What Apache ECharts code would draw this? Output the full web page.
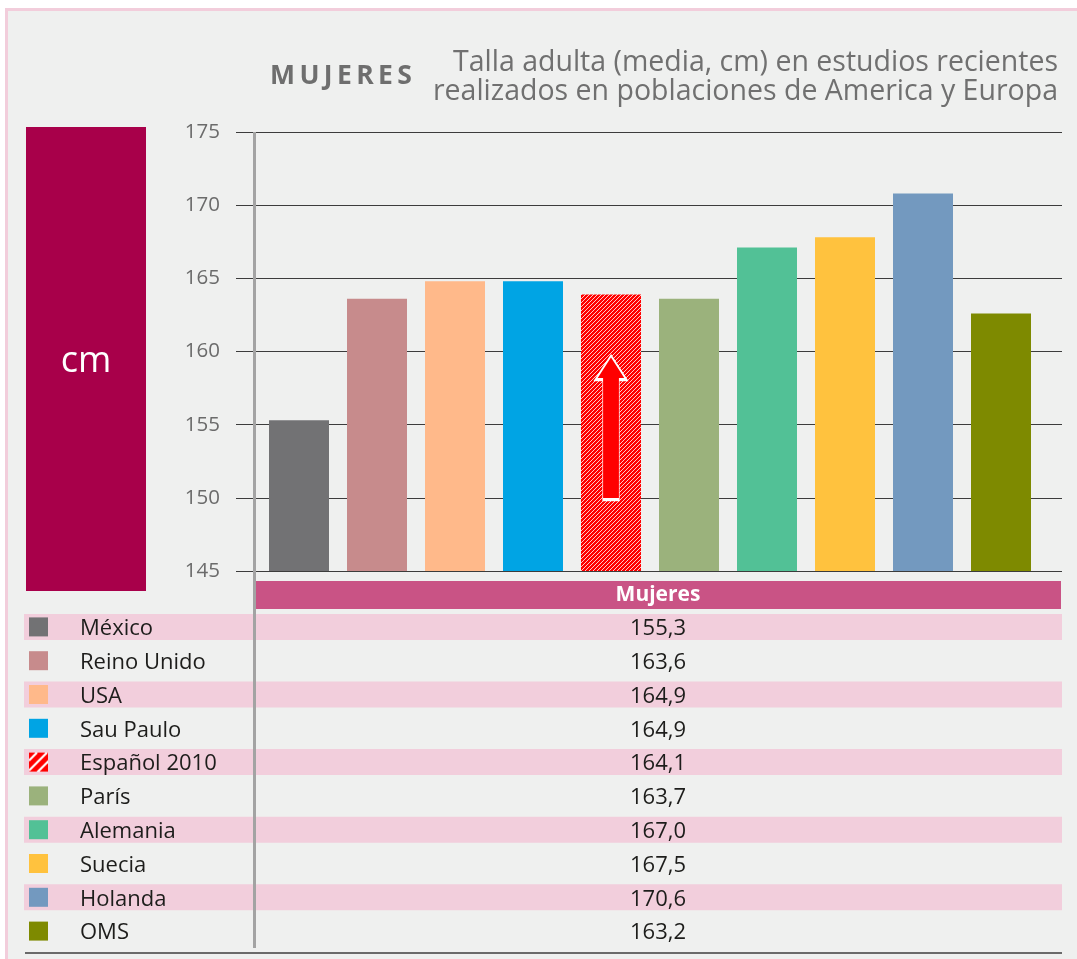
<!DOCTYPE html>
<html>
<head>
<meta charset="utf-8">
<script src="https://cdn.jsdelivr.net/npm/echarts@6/dist/echarts.min.js"></script>
<style>
html, body { margin: 0; padding: 0; background: #fff; }
#wrap { position: relative; width: 1077px; height: 959px; }
#panel {
  position: absolute; left: 5px; top: 8px; right: 0; bottom: 0;
  background: #eff0ef;
  border-left: 3px solid #f2cddb;
  border-top: 3px solid #f2cddb;
}
#chart { position: absolute; left: 0; top: 0; width: 1077px; height: 959px; }
</style>
</head>
<body>
<div id="wrap">
  <div id="panel"></div>
  <div id="chart"></div>
</div>
<script>
// datos
const categories = ['México', 'Reino Unido', 'USA', 'Sau Paulo', 'Español 2010', 'París', 'Alemania', 'Suecia', 'Holanda', 'OMS'];
const barHeights = [155.3, 163.6, 164.8, 164.8, 163.9, 163.6, 167.1, 167.8, 170.8, 162.6];
const tableValues = ['155,3', '163,6', '164,9', '164,9', '164,1', '163,7', '167,0', '167,5', '170,6', '163,2'];
const barColors = ['#727274', '#c78b8c', '#ffb98a', '#00a4e4', '#ff0000', '#9bb27c', '#52c196', '#ffc23e', '#7399bf', '#7e8a00'];
const yMin = 145;
const yMax = 175;
const yStep = 5;
const hatchIndex = 4; // Español 2010
const arrowValue = 154.8;

const FONT = '"Open Sans", "Noto Sans", sans-serif';

// trama rayada para la barra de España
function barHatch() {
  const c = document.createElement('canvas');
  c.width = 4; c.height = 4;
  const ctx = c.getContext('2d');
  const img = ctx.createImageData(4, 4);
  for (let y = 0; y < 4; y++) {
    for (let x = 0; x < 4; x++) {
      const k = (y * 4 + x) * 4;
      const white = (x + y) % 4 === 3;
      img.data[k] = 255;
      img.data[k + 1] = white ? 200 : 0;
      img.data[k + 2] = white ? 200 : 0;
      img.data[k + 3] = 255;
    }
  }
  ctx.putImageData(img, 0, 0);
  return c;
}

// cuadrito rayado de la leyenda
function legendHatch() {
  const c = document.createElement('canvas');
  c.width = 19; c.height = 19;
  const ctx = c.getContext('2d');
  ctx.fillStyle = '#ff0000';
  ctx.fillRect(0, 0, 19, 19);
  ctx.strokeStyle = '#ffffff';
  ctx.lineWidth = 2.2;
  [8, 18, 28].forEach(function (s) {
    ctx.beginPath();
    ctx.moveTo(0, s);
    ctx.lineTo(s, 0);
    ctx.stroke();
  });
  return c;
}

const hatchBar = barHatch();
const hatchSq = legendHatch();

const rich = {
  g: { width: 32 },
  t: { fontSize: 22, color: '#1d1d1b', fontFamily: FONT, padding: [4, 0, 0, 0] }
};
categories.forEach(function (c, i) {
  rich['s' + i] = {
    width: 19, height: 19,
    backgroundColor: i === hatchIndex ? { image: hatchSq } : barColors[i]
  };
});

const chart = echarts.init(document.getElementById('chart'));

const subStyle = { fontSize: 28.5, fontWeight: 'normal', color: '#707070', fontFamily: FONT };

chart.setOption({
  animation: false,
  backgroundColor: 'transparent',
  textStyle: { fontFamily: FONT },
  title: [
    {
      text: 'M\u2009U\u2009J\u2009E\u2009R\u2009E\u2009S',
      left: 270, top: 63, padding: 0,
      textStyle: { fontSize: 26.5, fontWeight: 'bold', color: '#6e6e6e', fontFamily: FONT }
    },
    {
      text: 'Talla adulta (media, cm) en estudios recientes',
      right: 19, top: 48, padding: 0,
      textStyle: subStyle
    },
    {
      text: 'realizados en poblaciones de America y Europa',
      right: 19, top: 77, padding: 0,
      textStyle: subStyle
    }
  ],
  grid: [
    { left: 236, right: 15, top: 132, height: 439 },
    { left: 260, right: 37, top: 132, height: 439 },
    { left: 24, right: 15, top: 610, height: 338 },
    { left: 256, right: 17, top: 612, height: 338 }
  ],
  xAxis: [
    { gridIndex: 0, type: 'value', show: false },
    { gridIndex: 1, type: 'category', data: categories, show: false },
    { gridIndex: 2, type: 'value', min: 0, max: 1, show: false },
    { gridIndex: 3, type: 'value', min: 0, max: 1, show: false }
  ],
  yAxis: [
    {
      gridIndex: 0, type: 'value', min: yMin, max: yMax, interval: yStep,
      axisLine: { show: false },
      axisTick: { show: false },
      splitLine: { lineStyle: { color: '#3c3c3c', width: 1 } },
      axisLabel: { color: '#6b6b6b', fontSize: 20.5, margin: 16, fontFamily: FONT }
    },
    { gridIndex: 1, type: 'value', min: yMin, max: yMax, show: false },
    {
      gridIndex: 2, type: 'category', inverse: true, data: categories,
      z: 10,
      axisLine: { show: false },
      axisTick: { show: false },
      splitLine: { show: false },
      axisLabel: {
        inside: true, margin: 5, interval: 0,
        formatter: function (v, i) { return '{s' + i + '|}{g|}{t|' + v + '}'; },
        rich: rich
      }
    },
    { gridIndex: 3, type: 'category', inverse: true, data: categories, show: false }
  ],
  series: [
    {
      name: 'Mujeres',
      type: 'bar',
      xAxisIndex: 1, yAxisIndex: 1,
      barWidth: 60,
      silent: true,
      data: barHeights.map(function (v, i) {
        return {
          value: v,
          itemStyle: { color: i === hatchIndex ? { image: hatchBar, repeat: 'repeat' } : barColors[i] }
        };
      }),
      markPoint: {
        silent: true,
        symbol: 'path://M15,0 L30,24 L23,24 L23,144 L7,144 L7,24 L0,24 Z',
        symbolSize: [31, 144],
        symbolKeepAspect: false,
        label: { show: false },
        itemStyle: { color: '#ff0000', borderColor: '#ffffff', borderWidth: 1.5 },
        data: [{ coord: [categories[hatchIndex], arrowValue] }]
      }
    },
    {
      // franjas rosas de la tabla
      type: 'bar',
      xAxisIndex: 2, yAxisIndex: 2,
      barWidth: 26,
      silent: true,
      z: 1,
      itemStyle: { color: '#f2cedc' },
      data: categories.map(function (c, i) { return i % 2 === 0 ? 1 : '-'; })
    },
    {
      // columna de valores
      type: 'bar',
      xAxisIndex: 3, yAxisIndex: 3,
      barWidth: 26,
      silent: true,
      itemStyle: { color: 'transparent' },
      label: {
        show: true, position: 'inside',
        color: '#1d1d1b', fontSize: 22, fontFamily: FONT,
        textBorderWidth: 0,
        formatter: function (p) { return tableValues[p.dataIndex]; }
      },
      data: categories.map(function () { return 1; })
    }
  ],
  graphic: [
    {
      type: 'rect', z: 50,
      shape: { x: 26, y: 127, width: 120, height: 464 },
      style: { fill: '#a8004a' }
    },
    {
      type: 'text', z: 51,
      style: {
        text: 'cm', x: 86, y: 362, textAlign: 'center', textVerticalAlign: 'middle',
        fill: '#ffffff', font: '36px ' + FONT
      }
    },
    {
      type: 'rect', z: 50,
      shape: { x: 256, y: 581, width: 805, height: 28 },
      style: { fill: '#c95385' }
    },
    {
      type: 'text', z: 51,
      style: {
        text: 'Mujeres', x: 658, y: 595, textAlign: 'center', textVerticalAlign: 'middle',
        fill: '#ffffff', font: 'bold 21px ' + FONT
      }
    },
    {
      type: 'line', z: 60,
      shape: { x1: 254.5, y1: 132, x2: 254.5, y2: 948 },
      style: { stroke: '#a3a3a3', lineWidth: 3 }
    },
    {
      type: 'line', z: 60,
      shape: { x1: 25, y1: 953, x2: 1062, y2: 953 },
      style: { stroke: '#6a6a6a', lineWidth: 2 }
    }
  ]
});
</script>
</body>
</html>
